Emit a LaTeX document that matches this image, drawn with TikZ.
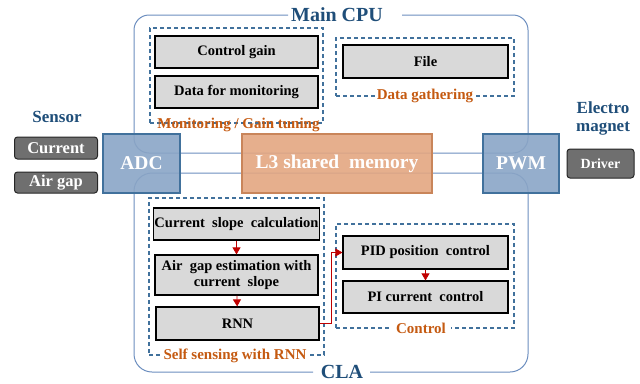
\documentclass[tikz,border=0pt]{standalone}
\usepackage{fontspec}
\setmainfont{Liberation Serif}
\usetikzlibrary{arrows.meta}
\definecolor{framecol}{HTML}{6C8EBF}
\definecolor{dashcol}{HTML}{41719C}
\definecolor{titlecol}{HTML}{1F4E79}
\definecolor{labcol}{HTML}{C55A11}
\definecolor{bluefill}{HTML}{8AA5C6}
\definecolor{blueedge}{HTML}{41719C}
\definecolor{orfill}{HTML}{E3A681}
\definecolor{oredge}{HTML}{C9855A}
\definecolor{darkfill}{HTML}{6F6F6F}
\definecolor{grayfill}{HTML}{D9D9D9}
\definecolor{arrcol}{HTML}{C00000}
\begin{document}
\begin{tikzpicture}[x=1pt,y=-1pt,font=\bfseries,
  gbox/.style={draw=black,line width=1.2pt,fill=grayfill,inner sep=1pt,align=center,font=\fontsize{14.5}{15.5}\selectfont\bfseries},
  dbox/.style={draw=dashcol,line width=1.1pt,dash pattern=on 4pt off 3pt,inner sep=0pt},
  sbox/.style={draw=black!85,line width=1pt,fill=darkfill,rounded corners=3pt,text=white,inner sep=0pt,font=\fontsize{16.5}{17}\selectfont\bfseries},
  bigbox/.style={line width=1.2pt,fill opacity=0.9,text opacity=1,text=white,inner sep=0pt,font=\fontsize{19.5}{20}\selectfont\bfseries},
  grplabel/.style={text=labcol,font=\fontsize{15}{16}\selectfont\bfseries,inner sep=2pt},
  titlelabel/.style={text=titlecol,font=\fontsize{20}{21}\selectfont\bfseries,inner sep=0pt},
  sidelabel/.style={text=titlecol,font=\fontsize{17}{18}\selectfont\bfseries,inner sep=0pt},
  frameline/.style={draw=framecol,line width=1pt},
  redarrow/.style={draw=arrcol,line width=0.8pt,-{Triangle[length=7pt,width=8pt]}}]
\useasboundingbox (0,0) rectangle (640,383);
% frames
\draw[frameline,rounded corners=15pt] (288,15) -| (134,153) -| (528,15) -- (402,15);
\draw[frameline,rounded corners=18pt] (313,372) -| (134,173) -| (528,372) -- (370,372);
\node[titlelabel] (maincpu) at (337,15) {Main CPU};
\node[titlelabel] (cla) at (342,372) {CLA};
% big boxes
\node[bigbox,draw=blueedge,fill=bluefill,minimum width=77pt,minimum height=59pt] (adc) at (141.5,163.5) {ADC};
\node[bigbox,draw=oredge,fill=orfill,minimum width=190pt,minimum height=59pt] (l3) at (337,163.5) {L3 shared\ \ memory};
\node[bigbox,draw=blueedge,fill=bluefill,minimum width=76pt,minimum height=59pt] (pwm) at (521,163.5) {PWM};
% sensor side
\node[sidelabel] (sensor) at (57,117) {Sensor};
\node[sbox,minimum width=83pt,minimum height=22pt] (cur) at (56,148) {Current};
\node[sbox,minimum width=83pt,minimum height=21pt] (gap) at (56,182.5) {Air gap};
\node[sidelabel] (electro) at (603,108) {Electro};
\node[sidelabel] (magnet) at (603,129) {magnet};
\node[sbox,minimum width=67pt,minimum height=29pt,font=\fontsize{14}{15}\selectfont\bfseries] (drv) at (600.5,163.5) {Driver};
% monitoring group
\node[dbox,minimum width=173pt,minimum height=95pt] (mon) at (236.5,75.5) {};
\node[gbox,minimum width=163pt,minimum height=32pt] (cg) at (236.5,52) {Control gain};
\node[gbox,minimum width=163pt,minimum height=32pt] (dfm) at (236.5,92) {Data for monitoring};
\node[grplabel] (monlab) at (238.5,125) {Monitoring / Gain tuning};
% data gathering group
\node[dbox,minimum width=178pt,minimum height=58pt] (dg) at (425,67) {};
\node[gbox,minimum width=165pt,minimum height=33pt] (file) at (425.5,61.5) {File};
\node[grplabel,fill=white] (dglab) at (425,96) {Data gathering};
% self sensing group
\node[dbox,minimum width=175pt,minimum height=157pt] (ss) at (236.5,276.5) {};
\node[gbox,minimum width=163pt,minimum height=32pt] (csc) at (236.5,224) {Current\ \ slope\ \ calculation};
\node[gbox,minimum width=163pt,minimum height=40pt] (age) at (236.5,275) {Air\ \ gap estimation with\\current\ \ slope};
\node[gbox,minimum width=163pt,minimum height=33pt] (rnn) at (237.5,323.5) {RNN};
\node[grplabel,fill=white] (sslab) at (235,356) {Self sensing with RNN};
% control group
\node[dbox,minimum width=178pt,minimum height=104pt] (ctl) at (425,276) {};
\node[gbox,minimum width=165pt,minimum height=33pt] (pid) at (425.5,252.5) {PID position\ \ control};
\node[gbox,minimum width=165pt,minimum height=32pt] (pi) at (425.5,297) {PI current\ \ control};
\node[grplabel,fill=white,inner xsep=5pt] (ctllab) at (421,328) {Control};
% arrows
\draw[redarrow] (csc) -- (age);
\draw[redarrow] (age) -- (rnn);
\draw[redarrow] (pid) -- (pi);
\draw[redarrow] (rnn.east) -- ([xshift=12pt]rnn.east) |- (pid.west);
\end{tikzpicture}
\end{document}
